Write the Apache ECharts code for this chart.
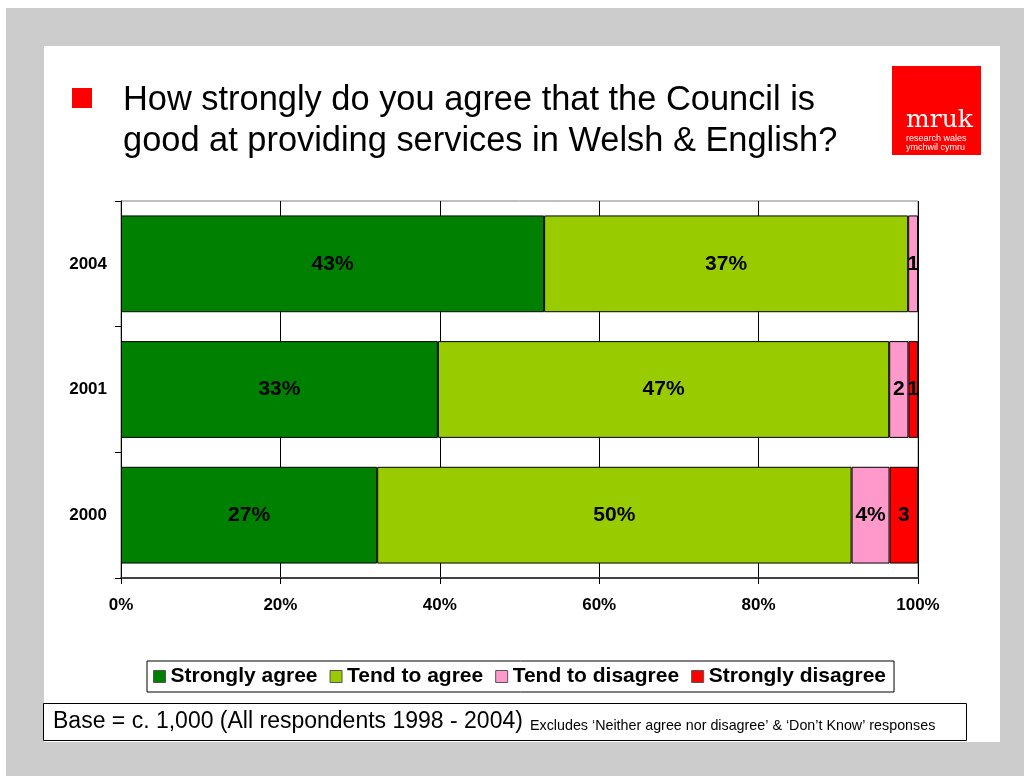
<!DOCTYPE html>
<html>
<head>
<meta charset="utf-8">
<style>
  html, body { margin: 0; padding: 0; background: #ffffff; }
  #chart { position: absolute; left: 0; top: 0; width: 1024px; height: 776px; }
</style>
<script src="https://cdn.jsdelivr.net/npm/echarts@6/dist/echarts.min.js"></script>
</head>
<body>
<div id="chart"></div>
<script>
// Survey years (bottom to top on the category axis)
const years = ['2000', '2001', '2004'];

// Responses per year, in percent of respondents giving an opinion
const stronglyAgree    = [27, 33, 43];
const tendToAgree      = [50, 47, 37];
const tendToDisagree   = [4, 2, 1];
const stronglyDisagree = [3, 1, 0];

const seriesNames = ['Strongly agree', 'Tend to agree', 'Tend to disagree', 'Strongly disagree'];
const seriesValues = [stronglyAgree, tendToAgree, tendToDisagree, stronglyDisagree];
const seriesColors = ['#008000', '#99cc00', '#ff99cc', '#ff0000'];

const xTicks = [0, 20, 40, 60, 80, 100];

// Each bar is scaled to 100% of the responses shown for that year
const totals = years.map((_, i) => seriesValues.reduce((s, arr) => s + arr[i], 0));

const FONT = 'Liberation Sans, Arial, sans-serif';

const series = seriesNames.map((name, k) => ({
  name: name,
  type: 'bar',
  stack: 'total',
  barCategoryGap: '23%',
  data: seriesValues[k].map((v, i) => ({ value: v / totals[i] * 100, raw: v })),
  itemStyle: { color: seriesColors[k], borderColor: '#000', borderWidth: 1 },
  label: {
    show: true,
    position: 'inside',
    color: '#000',
    fontFamily: FONT,
    fontWeight: 'bold',
    fontSize: 21,
    formatter: function (p) {
      const raw = p.data.raw;
      if (!raw) return '';
      return p.value >= 4 ? raw + '%' : String(raw);
    }
  },
  emphasis: { disabled: true }
}));

const chart = echarts.init(document.getElementById('chart'), null, { renderer: 'canvas' });

chart.setOption({
  animation: false,
  backgroundColor: '#cccccc',
  graphic: [
    // white margin strips and the slide panel
    { type: 'rect', z: -100, shape: { x: 0, y: 0, width: 1024, height: 8 }, style: { fill: '#ffffff' } },
    { type: 'rect', z: -100, shape: { x: 0, y: 0, width: 6, height: 776 }, style: { fill: '#ffffff' } },
    { type: 'rect', z: -100, shape: { x: 44, y: 46, width: 956, height: 696 }, style: { fill: '#ffffff' } },
    // title bullet and text
    { type: 'rect', shape: { x: 72, y: 88, width: 20, height: 20 }, style: { fill: '#ff0000' } },
    {
      type: 'text', left: 123, top: 80,
      style: {
        text: 'How strongly do you agree that the Council is\ngood at providing services in Welsh & English?',
        font: '34.4px ' + FONT, fill: '#000', lineHeight: 41
      }
    },
    // logo
    { type: 'rect', shape: { x: 892, y: 66, width: 89, height: 89 }, style: { fill: '#ff0000' } },
    { type: 'text', style: { x: 906, y: 120, text: 'mruk', font: '25px DejaVu Serif, serif', fill: '#ffffff', verticalAlign: 'middle' } },
    { type: 'text', style: { x: 906, y: 139, text: 'research wales', font: '9px ' + FONT, fill: '#ffffff', verticalAlign: 'middle' } },
    { type: 'text', style: { x: 906, y: 148, text: 'ymchwil cymru', font: '9px ' + FONT, fill: '#ffffff', verticalAlign: 'middle' } },
    // base note
    { type: 'rect', shape: { x: 43.5, y: 703.5, width: 923, height: 37 }, style: { fill: '#ffffff', stroke: '#000', lineWidth: 1 } },
    { type: 'text', style: { x: 53, y: 722, text: 'Base = c. 1,000 (All respondents 1998 - 2004)', font: '23px ' + FONT, fill: '#000', verticalAlign: 'middle' } },
    { type: 'text', style: { x: 530, y: 726, text: 'Excludes \u2018Neither agree nor disagree\u2019 & \u2018Don\u2019t Know\u2019 responses', font: '14.3px ' + FONT, fill: '#000', verticalAlign: 'middle' } }
  ],
  grid: {
    left: 121, right: 106, top: 201, bottom: 198,
    show: true, borderColor: '#808080', borderWidth: 1, backgroundColor: 'transparent'
  },
  legend: {
    left: 147, top: 661,
    padding: [5, 8, 5, 6],
    borderColor: '#000', borderWidth: 1, backgroundColor: '#fff',
    itemWidth: 12, itemHeight: 12, itemGap: 12,
    icon: 'rect',
    textStyle: { fontFamily: FONT, fontWeight: 'bold', fontSize: 21, color: '#000', padding: [0, 0, 0, 0] },
    itemStyle: { borderColor: '#555', borderWidth: 1 },
    data: seriesNames
  },
  xAxis: {
    type: 'value', min: 0, max: 100, interval: 20,
    axisLine: { show: true, lineStyle: { color: '#404040', width: 2 } },
    axisTick: { show: true, length: 6, inside: false, lineStyle: { color: '#000' } },
    splitLine: { show: true, lineStyle: { color: '#000', width: 1 } },
    axisLabel: {
      margin: 19, color: '#000', fontFamily: FONT, fontWeight: 'bold', fontSize: 17,
      formatter: v => xTicks.indexOf(v) >= 0 ? v + '%' : ''
    }
  },
  yAxis: {
    type: 'category', data: years,
    axisLine: { show: true, lineStyle: { color: '#000', width: 1 } },
    axisTick: { show: true, length: 6, lineStyle: { color: '#000' } },
    axisLabel: { margin: 14, color: '#000', fontFamily: FONT, fontWeight: 'bold', fontSize: 17 }
  },
  series: series
});
</script>
</body>
</html>
